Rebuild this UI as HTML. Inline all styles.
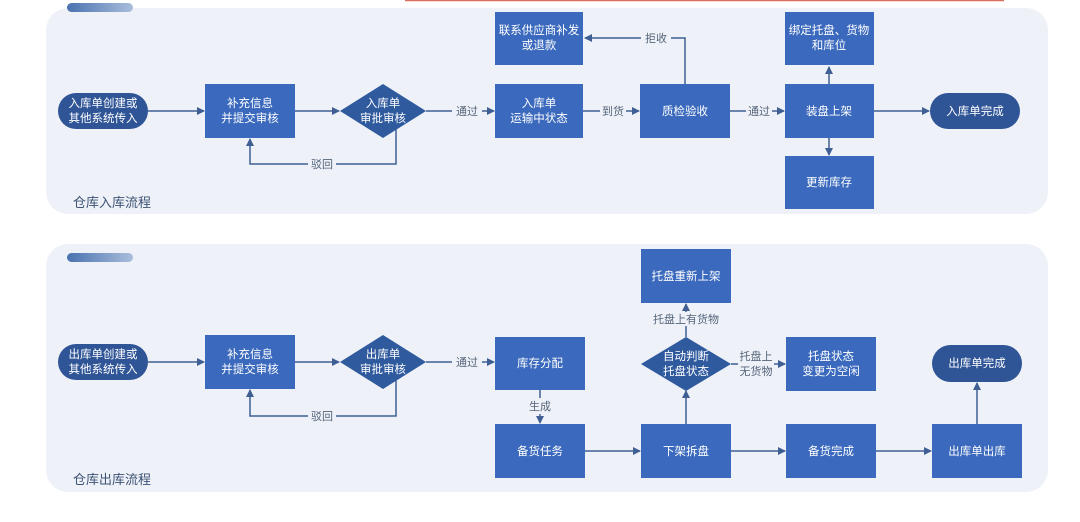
<!DOCTYPE html>
<html><head><meta charset="utf-8"><style>
html,body{margin:0;padding:0;background:#fff;}
svg text{font-family:"Liberation Sans","Noto Sans CJK SC",sans-serif;}
</style></head><body>
<svg width="1080" height="517" viewBox="0 0 1080 517" xmlns="http://www.w3.org/2000/svg">
<defs>
<marker id="a" markerWidth="8" markerHeight="8" refX="7" refY="4" orient="auto" markerUnits="userSpaceOnUse"><path d="M0,0 L8,4 L0,8 z" fill="#3f5f94"/></marker>
<linearGradient id="bar" x1="0" x2="1"><stop offset="0" stop-color="#4a72b0"/><stop offset="1" stop-color="#a9bedb"/></linearGradient>
</defs>
<rect width="1080" height="517" fill="#fff"/>
<line x1="405" y1="0.5" x2="1004" y2="0.5" stroke="#d9705f" stroke-width="1.5"/>
<!-- panels -->
<rect x="46" y="8" width="1002" height="206" rx="22" fill="#eef2f8"/>
<rect x="46" y="244" width="1002" height="248" rx="22" fill="#eef2f8"/>
<rect x="67" y="3" width="66" height="9" rx="4.5" fill="url(#bar)"/>
<rect x="67" y="253" width="66" height="9" rx="4.5" fill="url(#bar)"/>
<text x="73" y="207" font-size="13" fill="#3d5275">仓库入库流程</text>
<text x="73" y="484" font-size="13" fill="#3d5275">仓库出库流程</text>

<g stroke="#3f5f94" stroke-width="1.5" fill="none">
<!-- top -->
<line x1="148" y1="111" x2="204" y2="111" marker-end="url(#a)"/>
<line x1="295" y1="111" x2="339" y2="111" marker-end="url(#a)"/>
<line x1="426" y1="111" x2="452" y2="111"/><line x1="482" y1="111" x2="494" y2="111" marker-end="url(#a)"/>
<polyline points="396,124 396,164 336,164"/><polyline points="308,164 250,164 250,139" marker-end="url(#a)"/>
<line x1="583" y1="111" x2="600" y2="111"/><line x1="626" y1="111" x2="639" y2="111" marker-end="url(#a)"/>
<polyline points="685,84 685,38 671,38"/><line x1="641" y1="38" x2="585" y2="38" marker-end="url(#a)"/>
<line x1="730" y1="111" x2="746" y2="111"/><line x1="772" y1="111" x2="784" y2="111" marker-end="url(#a)"/>
<line x1="829" y1="84" x2="829" y2="67" marker-end="url(#a)"/>
<line x1="829" y1="138" x2="829" y2="155" marker-end="url(#a)"/>
<line x1="874" y1="111" x2="929" y2="111" marker-end="url(#a)"/>
<!-- bottom -->
<line x1="148" y1="362" x2="204" y2="362" marker-end="url(#a)"/>
<line x1="295" y1="362" x2="339" y2="362" marker-end="url(#a)"/>
<line x1="426" y1="362" x2="452" y2="362"/><line x1="482" y1="362" x2="494" y2="362" marker-end="url(#a)"/>
<polyline points="396,375 396,416 336,416"/><polyline points="308,416 250,416 250,390" marker-end="url(#a)"/>
<line x1="540" y1="390" x2="540" y2="398"/><line x1="540" y1="414" x2="540" y2="423" marker-end="url(#a)"/>
<line x1="585" y1="451" x2="640" y2="451" marker-end="url(#a)"/>
<line x1="731" y1="451" x2="785" y2="451" marker-end="url(#a)"/>
<line x1="876" y1="451" x2="931" y2="451" marker-end="url(#a)"/>
<line x1="686" y1="424" x2="686" y2="391" marker-end="url(#a)"/>
<line x1="686" y1="337" x2="686" y2="326"/><line x1="686" y1="312" x2="686" y2="304" marker-end="url(#a)"/>
<line x1="731" y1="364" x2="738" y2="364"/><line x1="774" y1="364" x2="785" y2="364" marker-end="url(#a)"/>
<line x1="977" y1="424" x2="977" y2="383" marker-end="url(#a)"/>
</g>

<!-- top nodes -->
<g fill="#fff" font-size="11.5" text-anchor="middle">
<rect x="58" y="93" width="90" height="36" rx="18" fill="#2f5597"/>
<text x="103" y="107">入库单创建或</text><text x="103" y="122">其他系统传入</text>
<rect x="205" y="84" width="90" height="54" fill="#3a69bd"/>
<text x="250" y="107">补充信息</text><text x="250" y="122">并提交审核</text>
<polygon points="383,84 426,111 383,138 340,111" fill="#2f5a9e"/>
<text x="383" y="107">入库单</text><text x="383" y="122">审批审核</text>
<rect x="495" y="84" width="88" height="54" fill="#3a69bd"/>
<text x="539" y="107">入库单</text><text x="539" y="122">运输中状态</text>
<rect x="495" y="12" width="88" height="53" fill="#3a69bd"/>
<text x="539" y="34">联系供应商补发</text><text x="539" y="49">或退款</text>
<rect x="640" y="84" width="90" height="54" fill="#3a69bd"/>
<text x="685" y="115">质检验收</text>
<rect x="785" y="84" width="89" height="54" fill="#3a69bd"/>
<text x="829" y="115">装盘上架</text>
<rect x="785" y="12" width="89" height="53" fill="#3a69bd"/>
<text x="829" y="34">绑定托盘、货物</text><text x="829" y="49">和库位</text>
<rect x="785" y="156" width="89" height="53" fill="#3a69bd"/>
<text x="829" y="186">更新库存</text>
<rect x="930" y="93" width="90" height="36" rx="18" fill="#2f5597"/>
<text x="975" y="115">入库单完成</text>

<!-- bottom nodes -->
<rect x="58" y="344" width="90" height="36" rx="18" fill="#2f5597"/>
<text x="103" y="358">出库单创建或</text><text x="103" y="373">其他系统传入</text>
<rect x="205" y="335" width="90" height="54" fill="#3a69bd"/>
<text x="250" y="358">补充信息</text><text x="250" y="373">并提交审核</text>
<polygon points="383,335 426,362 383,389 340,362" fill="#2f5a9e"/>
<text x="383" y="358">出库单</text><text x="383" y="373">审批审核</text>
<rect x="495" y="337" width="90" height="53" fill="#3a69bd"/>
<text x="540" y="367">库存分配</text>
<rect x="495" y="424" width="90" height="54" fill="#3a69bd"/>
<text x="540" y="455">备货任务</text>
<rect x="641" y="249" width="90" height="54" fill="#3a69bd"/>
<text x="686" y="280">托盘重新上架</text>
<polygon points="686,337 731,364 686,391 641,364" fill="#2f5a9e"/>
<text x="686" y="360">自动判断</text><text x="686" y="375">托盘状态</text>
<rect x="641" y="424" width="90" height="54" fill="#3a69bd"/>
<text x="686" y="455">下架拆盘</text>
<rect x="786" y="337" width="90" height="54" fill="#3a69bd"/>
<text x="831" y="360">托盘状态</text><text x="831" y="375">变更为空闲</text>
<rect x="786" y="424" width="90" height="54" fill="#3a69bd"/>
<text x="831" y="455">备货完成</text>
<rect x="932" y="345" width="90" height="37" rx="18.5" fill="#2f5597"/>
<text x="977" y="367">出库单完成</text>
<rect x="932" y="424" width="90" height="54" fill="#3a69bd"/>
<text x="977" y="455">出库单出库</text>
</g>

<!-- edge labels -->
<g fill="#55647a" font-size="11" text-anchor="middle">
<text x="467" y="115">通过</text>
<text x="322" y="168">驳回</text>
<text x="613" y="115">到货</text>
<text x="656" y="42">拒收</text>
<text x="759" y="115">通过</text>
<text x="467" y="366">通过</text>
<text x="322" y="420">驳回</text>
<text x="540" y="410">生成</text>
<text x="686" y="323">托盘上有货物</text>
<text x="756" y="360">托盘上</text>
<text x="756" y="375">无货物</text>
</g>
</svg>
</body></html>
